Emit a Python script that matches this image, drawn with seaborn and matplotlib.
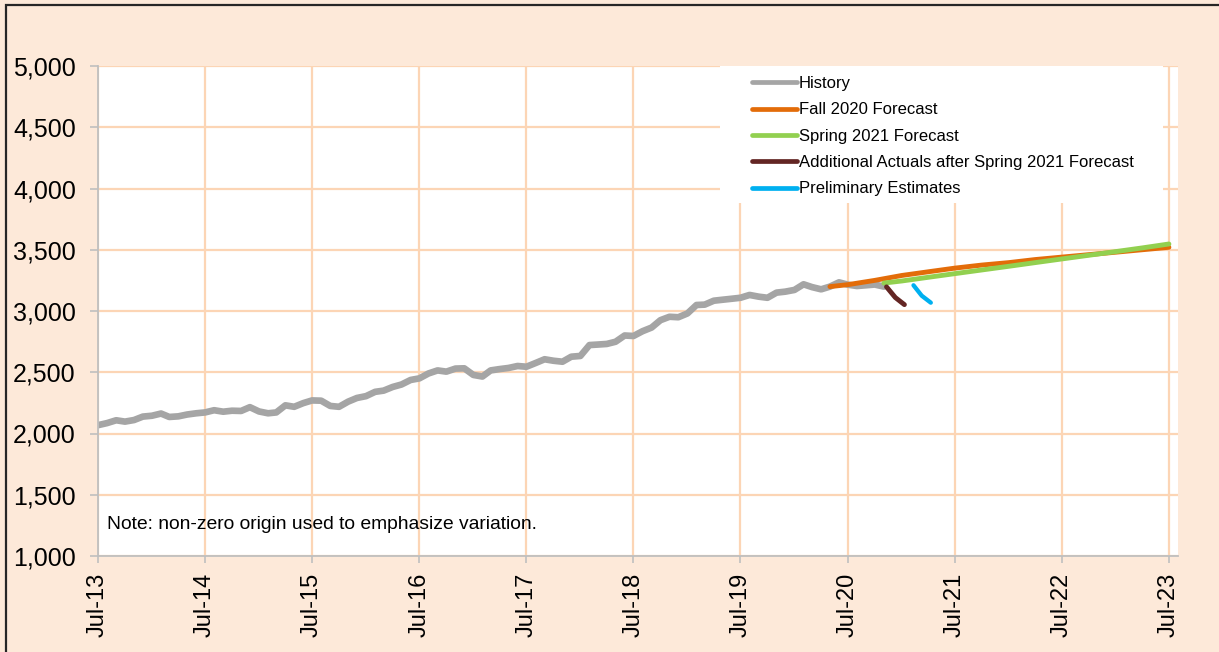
"""
plot.py

Monthly history vs. Fall 2020 / Spring 2021 forecasts (Jul-13 .. Jul-23).
Values read off the reference chart.
"""

import pandas as pd
import numpy as np
import matplotlib
matplotlib.use("Agg")
import matplotlib.pyplot as plt
import matplotlib.dates as mdates
from matplotlib.lines import Line2D
from matplotlib.patches import Rectangle
from matplotlib.ticker import StrMethodFormatter
import seaborn as sns

# ============================================================================
# 1. Data
# ============================================================================
history_start = "2013-07-01"
history_values = [
    2068, 2085, 2108, 2097, 2110, 2138, 2145, 2163, 2135, 2140, 2155, 2165,
    2172, 2190, 2178, 2186, 2184, 2215, 2180, 2165, 2172, 2230, 2218, 2248,
    2270, 2268, 2225, 2218, 2260, 2290, 2305, 2340, 2350, 2380, 2400, 2437,
    2450, 2490, 2515, 2505, 2530, 2532, 2478, 2465, 2515, 2526, 2535, 2551,
    2545, 2575, 2606, 2594, 2586, 2627, 2633, 2722, 2726, 2731, 2749, 2800,
    2796, 2835, 2865, 2925, 2953, 2949, 2980, 3049, 3052, 3084, 3092, 3100,
    3108, 3131, 3117, 3108, 3150, 3158, 3172, 3218, 3195, 3177, 3199, 3234,
    3215, 3204, 3210, 3216, 3199,
]

fall_dates = ["2020-05", "2020-07", "2020-10", "2021-01", "2021-04", "2021-07",
              "2021-10", "2022-01", "2022-04", "2022-07", "2022-10", "2023-01",
              "2023-04", "2023-07"]
fall_values = [3199, 3215, 3250, 3290, 3320, 3350, 3375, 3395, 3420, 3440,
               3460, 3480, 3500, 3520]

spring_dates = ["2020-11", "2021-01", "2021-04", "2021-07", "2021-10", "2022-01",
                "2022-04", "2022-07", "2022-10", "2023-01", "2023-04", "2023-07"]
spring_values = [3228, 3245, 3275, 3305, 3335, 3365, 3395, 3425, 3455, 3485,
                 3515, 3547]

actuals_dates = ["2020-11-10", "2020-12-10", "2021-01-10"]
actuals_values = [3197, 3110, 3052]

prelim_dates = ["2021-02-10", "2021-03-10", "2021-04-10"]
prelim_values = [3210, 3125, 3068]

series_names = ["History", "Fall 2020 Forecast", "Spring 2021 Forecast",
                "Additional Actuals after Spring 2021 Forecast",
                "Preliminary Estimates"]
series_colors = ["#A5A5A5", "#E36C09", "#92D050", "#632523", "#00B0F0"]

y_ticks = [1000, 1500, 2000, 2500, 3000, 3500, 4000, 4500, 5000]
note_text = "Note: non-zero origin used to emphasize variation."

# ============================================================================
# 2. Frames
# ============================================================================
frames = [
    pd.DataFrame({"date": pd.date_range(history_start, periods=len(history_values), freq="MS"),
                  "value": history_values}),
    pd.DataFrame({"date": pd.to_datetime(fall_dates), "value": fall_values}),
    pd.DataFrame({"date": pd.to_datetime(spring_dates), "value": spring_values}),
    pd.DataFrame({"date": pd.to_datetime(actuals_dates), "value": actuals_values}),
    pd.DataFrame({"date": pd.to_datetime(prelim_dates), "value": prelim_values}),
]
line_widths = [4.8, 3.5, 3.5, 3.5, 3.1]

# ============================================================================
# 3. Figure
# ============================================================================
sns.set_style("white")
plt.rcParams["font.family"] = ["Liberation Sans", "DejaVu Sans"]
plt.rcParams["text.color"] = "black"
plt.rcParams["xtick.labelcolor"] = "black"
plt.rcParams["ytick.labelcolor"] = "black"

bg = "#FDE9D9"
grid_c = "#FCD5B5"
fig = plt.figure(figsize=(12.19, 6.52), dpi=100, facecolor=bg)
ax = fig.add_axes([98 / 1219, 1 - 556 / 652, 1080 / 1219, 490 / 652])
ax.set_facecolor("white")

for df, name, col, lw in zip(frames, series_names, series_colors, line_widths):
    sns.lineplot(data=df, x="date", y="value", ax=ax, color=col, linewidth=lw,
                 solid_capstyle="round", legend=False, zorder=3)

ax.set_xlim(pd.Timestamp("2013-07-01"), pd.Timestamp("2023-08-01"))
ax.set_ylim(1000, 5000)
ax.set_yticks(y_ticks)
ax.yaxis.set_major_formatter(StrMethodFormatter("{x:,.0f}"))
ax.xaxis.set_major_locator(mdates.MonthLocator(bymonth=7))
ax.xaxis.set_major_formatter(mdates.DateFormatter("%b-%y"))
ax.set_xlabel("")
ax.set_ylabel("")

ax.grid(True, color=grid_c, linewidth=1.6, zorder=0)
ax.set_axisbelow(True)
for s in ["top", "right"]:
    ax.spines[s].set_visible(False)
for s in ["left", "bottom"]:
    ax.spines[s].set_color("#BFBFBF")
    ax.spines[s].set_linewidth(1.3)
    ax.spines[s].set_zorder(4)

ax.tick_params(axis="y", which="major", direction="out", length=6, width=1.2,
               color="#BFBFBF", labelsize=18, pad=10, left=True)
ax.tick_params(axis="x", which="major", direction="out", length=5, width=1.2,
               color="#BFBFBF", labelsize=17, pad=7, bottom=True,
               labelrotation=90)

# white box behind the legend (hides the grid there)
ax.add_patch(Rectangle((0.576, 0.7204), 0.41, 0.2796, transform=ax.transAxes,
                       facecolor="white", edgecolor="none", zorder=2))

handles = [Line2D([], [], color=c, linewidth=3.4, solid_capstyle="round")
           for c in series_colors]
ax.legend(handles, series_names, loc="upper left", bbox_to_anchor=(0.5965, 1.0),
          frameon=False, fontsize=12, handlelength=2.7, handletextpad=0.1,
          labelspacing=0.68, borderpad=0.6, borderaxespad=0)

ax.text(0.0085, 0.065, note_text, transform=ax.transAxes, fontsize=13.9,
        ha="left", va="center", color="black", zorder=5)

# chart border (only top and left edges visible in the crop)
fig.add_artist(Rectangle((6 / 1219, -0.05), 1.2, 1 - 5 / 652 + 0.05,
                         transform=fig.transFigure, facecolor="none",
                         edgecolor="#262626", linewidth=1.6, clip_on=False))

plt.savefig("out.png", dpi=100, facecolor=bg)
plt.close()
